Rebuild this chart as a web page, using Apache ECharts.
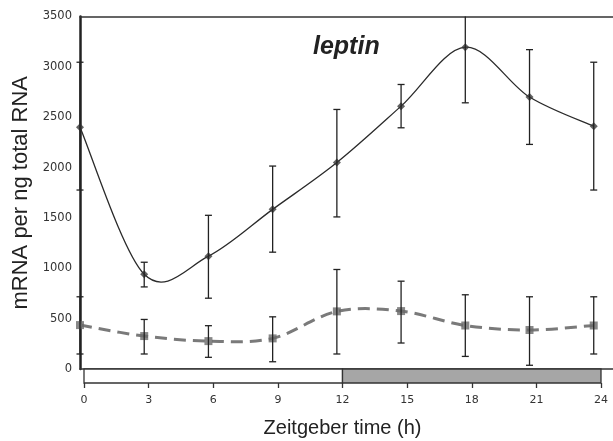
<!DOCTYPE html>
<html>
<head>
<meta charset="utf-8">
<script src="https://cdn.jsdelivr.net/npm/echarts@6/dist/echarts.min.js"></script>
<style>
html,body{margin:0;padding:0;background:#fff;}
#chart{width:613px;height:441px;}
</style>
</head>
<body>
<div id="chart"></div>
<script>
// ---- data ----
var hours = [0, 3, 6, 9, 12, 15, 18, 21, 24];
var seriesA = [2400, 940, 1120, 1585, 2050, 2610, 3195, 2700, 2410];
var seriesALow = [1777, 815, 703, 1160, 1510, 2395, 2643, 2230, 1777];
var seriesAHigh = [3046, 1060, 1526, 2015, 2577, 2825, 3750, 3171, 3046];
var seriesB = [436, 327, 277, 304, 572, 575, 432, 387, 432];
var seriesBLow = [149, 149, 116, 72, 149, 258, 125, 37, 149];
var seriesBHigh = [717, 492, 430, 518, 988, 872, 737, 717, 717];
var yTicks = [0, 500, 1000, 1500, 2000, 2500, 3000, 3500];
var xTicks = [0, 3, 6, 9, 12, 15, 18, 21, 24];
var phaseNames = ['light', 'dark'];
var phaseStart = [0, 12];
var phaseEnd = [12, 24];
var titleText = 'leptin';
var yTitle = 'mRNA per ng total RNA';
var xTitle = 'Zeitgeber time (h)';

function pairs(xs, ys) { return xs.map(function (x, i) { return [x, ys[i]]; }); }
function triples(xs, lo, hi) { return xs.map(function (x, i) { return [x, lo[i], hi[i]]; }); }

// Catmull-Rom (Excel-style) smoothed curve through the data, via the axis scales
function curveRender(xs, ys, style) {
  return function (params, api) {
    if (params.dataIndex !== 0) return null;
    var p = xs.map(function (x, i) { return api.coord([x, ys[i]]); });
    var n = p.length;
    var d = 'M' + p[0][0] + ' ' + p[0][1];
    for (var i = 0; i < n - 1; i++) {
      var p0 = p[Math.max(i - 1, 0)], p1 = p[i], p2 = p[i + 1], p3 = p[Math.min(i + 2, n - 1)];
      var c1x = p1[0] + (p2[0] - p0[0]) / 6, c1y = p1[1] + (p2[1] - p0[1]) / 6;
      var c2x = p2[0] - (p3[0] - p1[0]) / 6, c2y = p2[1] - (p3[1] - p1[1]) / 6;
      d += ' C' + c1x + ' ' + c1y + ' ' + c2x + ' ' + c2y + ' ' + p2[0] + ' ' + p2[1];
    }
    return { type: 'path', shape: { pathData: d }, style: style };
  };
}

function errRender(params, api) {
  var x = api.value(0);
  var lo = api.coord([x, api.value(1)]);
  var hi = api.coord([x, api.value(2)]);
  var top = params.coordSys.y;
  var capHi = true;
  if (hi[1] < top) { hi[1] = top; capHi = false; }
  var w = 3.5;
  var st = { stroke: '#222', lineWidth: 1.3 };
  var ch = [
    { type: 'line', shape: { x1: lo[0], y1: lo[1], x2: hi[0], y2: hi[1] }, style: st },
    { type: 'line', shape: { x1: lo[0] - w, y1: lo[1], x2: lo[0] + w, y2: lo[1] }, style: st }
  ];
  if (capHi) ch.push({ type: 'line', shape: { x1: hi[0] - w, y1: hi[1], x2: hi[0] + w, y2: hi[1] }, style: st });
  return { type: 'group', children: ch };
}

function phaseRender(params, api) {
  var i = params.dataIndex;
  var a = api.coord([api.value(0), 1]);
  var b = api.coord([api.value(1), 0]);
  return {
    type: 'rect',
    shape: { x: a[0], y: a[1], width: b[0] - a[0], height: b[1] - a[1] },
    style: { fill: phaseNames[i] === 'dark' ? '#a6a6a6' : '#ffffff', stroke: '#333', lineWidth: 1.3 }
  };
}

var chart = echarts.init(document.getElementById('chart'), null, { renderer: 'canvas' });
chart.setOption({
  animation: false,
  backgroundColor: '#fff',
  title: {
    text: titleText, left: 308, top: 30,
    textStyle: { fontFamily: 'Liberation Sans', fontSize: 25, fontWeight: 'bold', fontStyle: 'italic', color: '#222' }
  },
  grid: [
    { left: 80, right: 0, top: 16.5, bottom: 72 },
    { left: 84, width: 517, top: 369, height: 14 }
  ],
  xAxis: [
    { gridIndex: 0, type: 'value', min: 0, max: 24.9, position: 'bottom',
      axisLine: { show: true, onZero: false, lineStyle: { color: '#333', width: 1.5 } },
      axisTick: { show: false }, axisLabel: { show: false }, splitLine: { show: false } },
    { gridIndex: 0, type: 'value', min: 0, max: 24.9, position: 'top',
      axisLine: { show: true, onZero: false, lineStyle: { color: '#333', width: 1.5 } },
      axisTick: { show: false }, axisLabel: { show: false }, splitLine: { show: false } },
    { gridIndex: 1, type: 'value', min: 0, max: 24, interval: 3, position: 'bottom',
      axisLine: { show: false },
      axisTick: { show: true, length: 5, lineStyle: { color: '#333', width: 1.3 } },
      axisLabel: { show: true, margin: 12, fontFamily: 'DejaVu Sans', fontSize: 11, color: '#333',
        formatter: function (v) { return xTicks.indexOf(v) >= 0 ? String(v) : ''; } },
      splitLine: { show: false },
      name: xTitle, nameLocation: 'middle', nameGap: 35,
      nameTextStyle: { fontFamily: 'Liberation Sans', fontSize: 20, color: '#222' } }
  ],
  yAxis: [
    { gridIndex: 0, type: 'value', min: 0, max: 3500, interval: 500,
      axisLine: { show: true, lineStyle: { color: '#222', width: 2.5 } },
      axisTick: { show: false },
      axisLabel: { margin: 8, fontFamily: 'DejaVu Sans', fontSize: 11.5, color: '#333',
        formatter: function (v) { return yTicks.indexOf(v) >= 0 ? String(v) : ''; } },
      splitLine: { show: false },
      name: yTitle, nameLocation: 'middle', nameRotate: 90, nameGap: 42,
      nameTextStyle: { fontFamily: 'Liberation Sans', fontSize: 22, color: '#222' } },
    { gridIndex: 1, type: 'value', min: 0, max: 1, show: false }
  ],
  series: [
    { type: 'custom', xAxisIndex: 2, yAxisIndex: 1, renderItem: phaseRender,
      data: phaseStart.map(function (s, i) { return [s, phaseEnd[i]]; }), z: 1 },
    { type: 'custom', xAxisIndex: 0, yAxisIndex: 0, clip: true, z: 3,
      renderItem: curveRender(hours, seriesB, { fill: 'none', stroke: '#7a7a7a', lineWidth: 3, lineDash: [12, 7] }),
      data: pairs(hours, seriesB) },
    { type: 'custom', xAxisIndex: 0, yAxisIndex: 0, clip: true, z: 3,
      renderItem: curveRender(hours, seriesA, { fill: 'none', stroke: '#2b2b2b', lineWidth: 1.3 }),
      data: pairs(hours, seriesA) },
    { type: 'scatter', xAxisIndex: 0, yAxisIndex: 0, data: pairs(hours, seriesB),
      symbol: 'rect', symbolSize: 8, itemStyle: { color: '#6a6a6a' }, z: 4 },
    { type: 'scatter', xAxisIndex: 0, yAxisIndex: 0, data: pairs(hours, seriesA),
      symbol: 'diamond', symbolSize: 8, itemStyle: { color: '#3a3a3a' }, z: 4 },
    { type: 'custom', xAxisIndex: 0, yAxisIndex: 0, renderItem: errRender, clip: false,
      data: triples(hours, seriesBLow, seriesBHigh), z: 5 },
    { type: 'custom', xAxisIndex: 0, yAxisIndex: 0, renderItem: errRender, clip: false,
      data: triples(hours, seriesALow, seriesAHigh), z: 5 }
  ]
});
</script>
</body>
</html>
